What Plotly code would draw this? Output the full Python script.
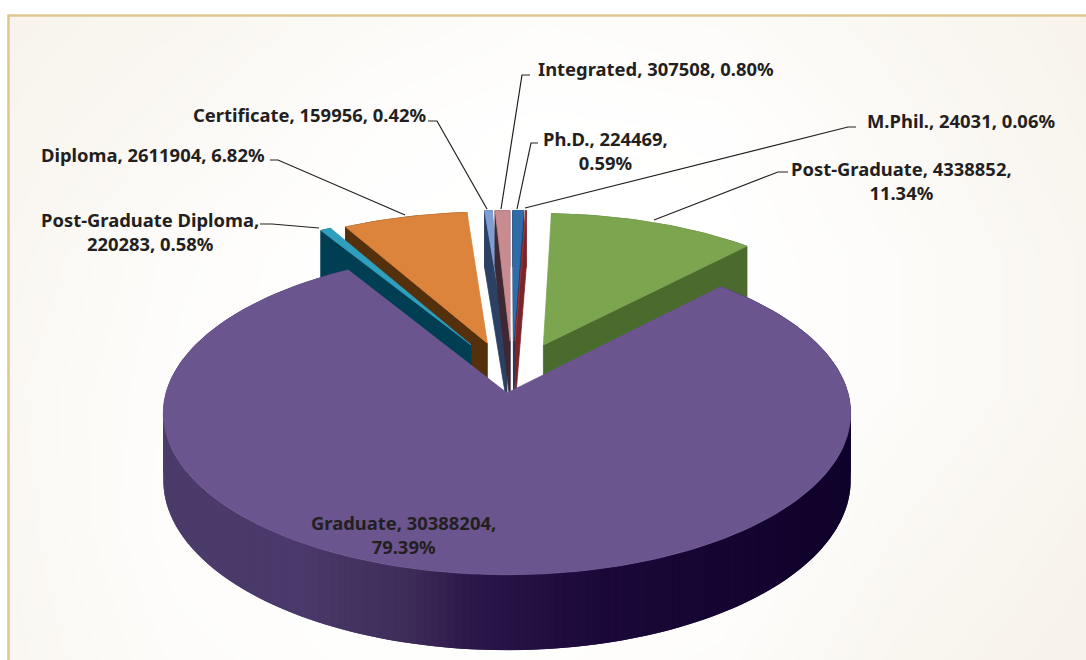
import math
import numpy as np
import plotly.graph_objects as go

# ---- data -----------------------------------------------------------
categories = ["Ph.D.", "M.Phil.", "Post-Graduate", "Graduate",
              "Post-Graduate Diploma", "Diploma", "Certificate", "Integrated"]
values = [224469, 24031, 4338852, 30388204, 220283, 2611904, 159956, 307508]
percent_labels = ["0.59%", "0.06%", "11.34%", "79.39%", "0.58%", "6.82%", "0.42%", "0.80%"]

# ---- style ----------------------------------------------------------
top_colors = ["#2f6ca8", "#9c3236", "#7ba54f", "#6a558f", "#2f9fbd", "#dc843c", "#7f9fd4", "#c88b90"]
wall_colors = ["#1d3f66", "#7c2428", "#4a6a2e", "#3f2f5e", "#003e54", "#54300d", "#2b4063", "#3d2833"]
explode_u = [0.02, 0.025, 0.111, 0.0, -0.11, -0.06, 0.0, 0.01]
explode_v = [0.34, 0.34, 0.314, 0.0, 0.315, 0.326, 0.34, 0.34]
draw_order = [5, 4, 6, 7, 0, 1, 2, 3]

W, H = 1086, 660
CX, CY, R, RY, DEPTH, K = 507, 393, 341, 159, 66, 0.125
FONT = "Noto Sans"
FONT_SIZE = 18.4
INK = "#231f20"


def project(u, v, z=0.0):
    s = 1.0 / (1.0 + K * v)
    return CX + R * u * s, CY - RY * v * s + z * DEPTH * s


def poly(xs, ys, color, lw=0.8):
    return go.Scatter(x=list(xs), y=list(ys), mode="lines", fill="toself", fillcolor=color,
                      line=dict(color=color, width=lw), hoverinfo="skip", showlegend=False)


def hex2rgb(c):
    return [int(c[i:i + 2], 16) for i in (1, 3, 5)]


purple_stops_x = [160, 300, 400, 470, 600, 800, 860]
purple_stops_c = ["#4c3c6b", "#4a396a", "#3f2d5a", "#2c174a", "#1b0939", "#12032d", "#0f022a"]


def purple_wall_color(x):
    cols = np.array([hex2rgb(c) for c in purple_stops_c], float)
    rgb = [np.interp(x, purple_stops_x, cols[:, j]) for j in range(3)]
    return "rgb(%d,%d,%d)" % tuple(rgb)


traces = []

# page background: pale cream toward the corners, white around the pie
bg_x = [-20, 180, 360, 540, 720, 900, 1120]
bg_y = [-20, 130, 260, 390, 520, 690]
bg_z = [[0.85, 0.70, 0.45, 0.25, 0.35, 0.60, 0.90],
        [0.75, 0.45, 0.12, 0.00, 0.05, 0.40, 0.80],
        [0.65, 0.20, 0.00, 0.00, 0.00, 0.25, 0.70],
        [0.55, 0.15, 0.00, 0.00, 0.00, 0.25, 0.70],
        [0.60, 0.10, 0.00, 0.00, 0.00, 0.45, 0.85],
        [0.65, 0.25, 0.10, 0.10, 0.25, 0.70, 1.00]]
traces.append(go.Heatmap(x=bg_x, y=bg_y, z=bg_z, zsmooth="best", showscale=False, hoverinfo="skip",
                         zmin=0, zmax=1, colorscale=[[0, "#ffffff"], [1, "#f6f1e8"]]))

total = sum(values)
edges = [0.0]
for val in values:
    edges.append(edges[-1] + val / total * 2 * math.pi)


def signed_area(pts):
    a = 0.0
    for i in range(len(pts)):
        x0, y0 = pts[i]
        x1, y1 = pts[(i + 1) % len(pts)]
        a += x0 * y1 - x1 * y0
    return a


for i in draw_order:
    a0, a1 = edges[i], edges[i + 1]
    ou, ov = explode_u[i], explode_v[i]
    n = max(4, int((a1 - a0) / 0.02))
    angs = np.linspace(a0, a1, n + 1)
    arc_u = ou + np.sin(angs)
    arc_v = ov + np.cos(angs)

    # radial side walls (only those turned to the viewer)
    if i != 3:
        for ang, sign in ((a0, 1), (a1, -1)):
            eu, ev = ou + math.sin(ang), ov + math.cos(ang)
            quad = [project(ou, ov), project(eu, ev), project(eu, ev, 1), project(ou, ov, 1)]
            if signed_area(quad) * sign < 0:
                traces.append(poly([p[0] for p in quad] + [quad[0][0]],
                                   [p[1] for p in quad] + [quad[0][1]], wall_colors[i]))

    # outer rim, cut in overlapping strips so the purple one can shade across
    if i == 3:
        for j in range(n):
            j2 = min(j + 2, n)
            q = [project(arc_u[j], arc_v[j]), project(arc_u[j2], arc_v[j2]),
                 project(arc_u[j2], arc_v[j2], 1), project(arc_u[j], arc_v[j], 1)]
            col = purple_wall_color((q[0][0] + q[1][0]) / 2)
            traces.append(poly([p[0] for p in q] + [q[0][0]], [p[1] for p in q] + [q[0][1]], col, lw=0))
    else:
        pts = [project(u, v) for u, v in zip(arc_u, arc_v)] + \
              [project(u, v, 1) for u, v in zip(arc_u[::-1], arc_v[::-1])]
        traces.append(poly([p[0] for p in pts] + [pts[0][0]], [p[1] for p in pts] + [pts[0][1]], wall_colors[i]))

    # top face
    pts = [project(ou, ov)] + [project(u, v) for u, v in zip(arc_u, arc_v)] + [project(ou, ov)]
    traces.append(poly([p[0] for p in pts], [p[1] for p in pts], top_colors[i]))

fig = go.Figure(traces)

# ---- labels and leader lines ----------------------------------------
label_text = [
    "Ph.D., 224469,<br>0.59%",
    "M.Phil., 24031, 0.06%",
    "Post-Graduate, 4338852,<br>11.34%",
    "Graduate, 30388204,<br>79.39%",
    "Post-Graduate Diploma,<br>220283, 0.58%",
    "Diploma, 2611904, 6.82%",
    "Certificate, 159956, 0.42%",
    "Integrated, 307508, 0.80%",
]
label_xy = [(605, 150), (961, 120), (901, 180), (403, 534), (150, 231), (153, 154), (309, 114), (656, 68)]
leaders = [
    [(517, 209), (531, 143), (538, 143)],
    [(525, 208), (848, 127), (856, 127)],
    [(654, 220), (778, 172), (788, 172)],
    None,
    [(319, 228), (272, 224), (260, 224)],
    [(405, 215), (278, 160), (270, 160)],
    [(487, 209), (437, 121), (428, 121)],
    [(501, 209), (522, 75), (530, 75)],
]
for i, t in enumerate(label_text):
    x, y = label_xy[i]
    fig.add_annotation(x=x, y=y, text="<b>%s</b>" % t, showarrow=False, xanchor="center", yanchor="middle",
                       align="center", font=dict(family=FONT, size=FONT_SIZE, color=INK))
    if leaders[i]:
        fig.add_trace(go.Scatter(x=[p[0] for p in leaders[i]], y=[p[1] for p in leaders[i]], mode="lines",
                                 line=dict(color="#231f20", width=1.2), hoverinfo="skip", showlegend=False))

# white margin outside the frame, then the frame itself
fig.add_shape(type="rect", x0=0, y0=0, x1=W, y1=15, line=dict(width=0), fillcolor="#ffffff", layer="above")
fig.add_shape(type="rect", x0=0, y0=0, x1=8, y1=H, line=dict(width=0), fillcolor="#ffffff", layer="above")
fig.add_shape(type="rect", x0=8.5, y0=15.5, x1=1200, y1=800, line=dict(color="#dfc88f", width=2.5),
              fillcolor="rgba(0,0,0,0)", layer="above")

fig.update_xaxes(range=[0, W], visible=False, fixedrange=True)
fig.update_yaxes(range=[H, 0], visible=False, fixedrange=True)
fig.update_layout(width=W, height=H, margin=dict(l=0, r=0, t=0, b=0), paper_bgcolor="#f8f4ec",
                  plot_bgcolor="#f8f4ec", showlegend=False)
fig.write_html("out.html", config=dict(displayModeBar=False),
               post_script="document.body.style.margin='0';document.body.style.overflow='hidden';document.body.style.background='#f8f4ec';")
